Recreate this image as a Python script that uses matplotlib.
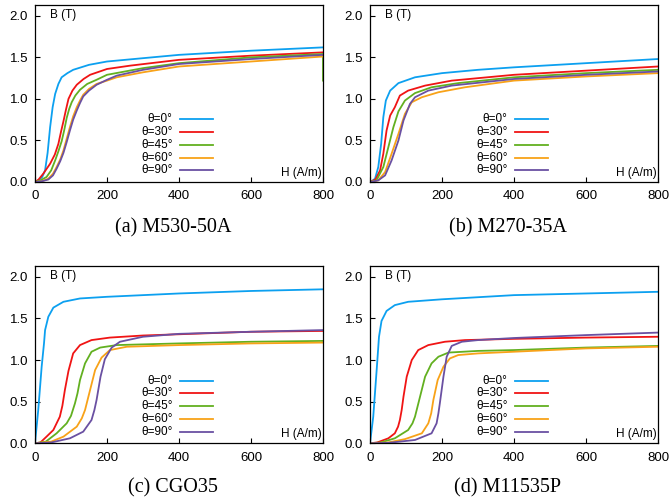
import matplotlib
matplotlib.use("Agg")
import matplotlib.pyplot as plt

# (H [A/m], B [T]), one list per angle
angles = ["θ=0°", "θ=30°", "θ=45°", "θ=60°", "θ=90°"]
colors = ["#0ca0f0", "#f01414", "#62b020", "#f8a218", "#6a50a2"]

m530_0 = [(0, 0), (10, 0.02), (20, 0.06), (28, 0.14), (35, 0.35), (42, 0.66), (49, 0.9), (56, 1.06),
          (65, 1.18), (74, 1.26), (90, 1.31), (106, 1.35), (150, 1.41), (200, 1.45), (300, 1.49),
          (400, 1.53), (600, 1.58), (800, 1.62)]
m530_30 = [(0, 0), (10, 0.03), (23, 0.1), (42, 0.22), (55, 0.33), (65, 0.46), (72, 0.6), (79, 0.73),
           (86, 0.87), (93, 1.0), (104, 1.1), (116, 1.17), (135, 1.24), (153, 1.29), (200, 1.36),
           (264, 1.4), (400, 1.47), (600, 1.52), (800, 1.56)]
m530_45 = [(0, 0), (15, 0.02), (32, 0.06), (45, 0.14), (56, 0.26), (65, 0.37), (74, 0.49), (81, 0.62),
           (88, 0.77), (95, 0.88), (102, 0.96), (112, 1.04), (125, 1.11), (145, 1.18), (171, 1.23),
           (200, 1.29), (300, 1.37), (400, 1.43), (600, 1.5), (800, 1.54), (800, 1.22)]
m530_60 = [(0, 0), (20, 0.01), (37, 0.04), (50, 0.1), (60, 0.18), (70, 0.27), (79, 0.38), (88, 0.52),
           (97, 0.66), (106, 0.79), (116, 0.9), (125, 0.98), (134, 1.05), (150, 1.12), (171, 1.18),
           (200, 1.22), (227, 1.26), (300, 1.32), (400, 1.39), (600, 1.45), (800, 1.51)]
m530_90 = [(0, 0), (20, 0.01), (37, 0.03), (50, 0.08), (60, 0.16), (70, 0.25), (79, 0.35), (88, 0.48),
           (97, 0.62), (106, 0.75), (116, 0.86), (125, 0.95), (134, 1.03), (150, 1.1), (171, 1.17),
           (200, 1.23), (227, 1.28), (300, 1.35), (400, 1.42), (600, 1.48), (800, 1.53)]

m270_0 = [(0, 0), (8, 0.02), (14, 0.04), (23, 0.18), (31, 0.46), (37, 0.78), (44, 0.98), (56, 1.1),
          (79, 1.19), (125, 1.26), (200, 1.31), (300, 1.35), (400, 1.38), (600, 1.43), (800, 1.48)]
m270_30 = [(0, 0), (15, 0.03), (28, 0.14), (37, 0.34), (46, 0.62), (56, 0.8), (69, 0.9), (83, 1.04),
           (106, 1.1), (153, 1.16), (227, 1.22), (400, 1.29), (600, 1.34), (800, 1.39)]
m270_45 = [(0, 0), (18, 0.02), (37, 0.18), (51, 0.42), (65, 0.66), (79, 0.85), (97, 0.98), (125, 1.07),
           (171, 1.14), (245, 1.19), (400, 1.26), (600, 1.31), (800, 1.35)]
m270_60 = [(0, 0), (23, 0.02), (42, 0.12), (60, 0.34), (79, 0.58), (97, 0.82), (116, 0.96), (144, 1.02),
           (190, 1.08), (264, 1.14), (400, 1.22), (600, 1.27), (800, 1.31)]
m270_90 = [(0, 0), (23, 0.02), (42, 0.08), (60, 0.26), (79, 0.5), (93, 0.74), (111, 0.94), (125, 1.02),
           (162, 1.1), (227, 1.16), (400, 1.24), (600, 1.29), (800, 1.33)]

cgo_0 = [(0, 0), (9, 0.4), (18.5, 0.92), (25, 1.2), (28, 1.36), (37, 1.52), (51, 1.63), (79, 1.7),
         (125, 1.74), (200, 1.76), (400, 1.8), (600, 1.83), (800, 1.85)]
cgo_30 = [(0, 0), (15, 0.01), (32, 0.08), (51, 0.16), (69, 0.32), (76, 0.45), (83, 0.64), (93, 0.87),
          (106, 1.08), (125, 1.18), (157, 1.24), (208, 1.27), (300, 1.295), (400, 1.31), (600, 1.34),
          (800, 1.35)]
cgo_45 = [(0, 0), (30, 0.02), (60, 0.12), (88, 0.24), (100, 0.33), (111, 0.48), (118, 0.6), (125, 0.76),
          (139, 0.96), (157, 1.1), (181, 1.15), (227, 1.18), (400, 1.2), (600, 1.22), (800, 1.23)]
cgo_60 = [(0, 0), (45, 0.02), (79, 0.08), (116, 0.2), (130, 0.3), (139, 0.4), (146, 0.52), (153, 0.64),
          (167, 0.88), (185, 1.03), (208, 1.12), (255, 1.16), (400, 1.18), (600, 1.2), (800, 1.21)]
cgo_90 = [(0, 0), (45, 0.01), (97, 0.06), (134, 0.14), (157, 0.28), (165, 0.4), (171, 0.52), (182, 0.8),
          (194, 1.01), (213, 1.15), (236, 1.22), (300, 1.28), (400, 1.315), (600, 1.34), (800, 1.36)]

m115_0 = [(0, 0), (9, 0.32), (18.5, 0.88), (25, 1.28), (32, 1.47), (46, 1.59), (69, 1.66), (106, 1.7),
          (200, 1.73), (400, 1.78), (600, 1.8), (800, 1.82)]
m115_30 = [(0, 0), (20, 0.01), (51, 0.06), (69, 0.12), (78, 0.2), (83, 0.28), (88, 0.4), (93, 0.56),
           (102, 0.8), (116, 1.0), (134, 1.12), (162, 1.18), (208, 1.22), (264, 1.24), (400, 1.255),
           (600, 1.27), (800, 1.28)]
m115_45 = [(0, 0), (30, 0.01), (69, 0.06), (106, 0.16), (118, 0.24), (125, 0.32), (139, 0.56), (153, 0.8),
           (171, 0.96), (190, 1.04), (218, 1.09), (300, 1.11), (400, 1.12), (600, 1.15), (800, 1.17)]
m115_60 = [(0, 0), (50, 0.01), (97, 0.05), (144, 0.12), (162, 0.24), (170, 0.36), (176, 0.52), (188, 0.76),
           (204, 0.92), (222, 1.02), (245, 1.06), (300, 1.08), (400, 1.1), (600, 1.14), (800, 1.16)]
m115_90 = [(0, 0), (50, 0.005), (125, 0.04), (171, 0.12), (185, 0.24), (190, 0.36), (194, 0.48),
           (204, 0.8), (213, 1.04), (227, 1.17), (255, 1.22), (300, 1.24), (400, 1.265), (600, 1.3),
           (800, 1.33)]

captions = ["(a) M530-50A", "(b) M270-35A", "(c) CGO35", "(d) M11535P"]
panels = [
    [m530_0, m530_30, m530_45, m530_60, m530_90],
    [m270_0, m270_30, m270_45, m270_60, m270_90],
    [cgo_0, cgo_30, cgo_45, cgo_60, cgo_90],
    [m115_0, m115_30, m115_45, m115_60, m115_90],
]

W, H = 671, 504
fig = plt.figure(figsize=(W / 100, H / 100), dpi=100)

# axes boxes in pixels: left, top, right, bottom
boxes = [(35, 5, 323, 182), (370, 5, 658, 182), (35, 266, 323, 443.3), (370, 266, 658, 443.3)]
cap_pos = [(173, 228), (508, 228), (173, 488), (508, 488)]

sans = "Liberation Sans"
legend_y = [0.354, 0.281, 0.208, 0.138, 0.066]

for i, (curves, box) in enumerate(zip(panels, boxes)):
    l, t, r, b = box
    ax = fig.add_axes([l / W, 1 - b / H, (r - l) / W, (b - t) / H])
    for pts, c in zip(curves, colors):
        ax.plot([p[0] for p in pts], [p[1] for p in pts], color=c, lw=1.3, solid_joinstyle="round")
    ax.set_xlim(0, 800)
    ax.set_ylim(0, 2.13)
    ax.set_xticks([0, 200, 400, 600, 800])
    ax.set_yticks([0, 0.5, 1.0, 1.5, 2.0])
    ax.set_yticklabels(["0.0", "0.5", "1.0", "1.5", "2.0"])
    ax.tick_params(direction="in", length=3.5, width=0.8, labelsize=9.5)
    ax.tick_params(axis="y", pad=5)
    ax.tick_params(axis="x", pad=6)
    for lab in ax.get_xticklabels() + ax.get_yticklabels():
        lab.set_fontfamily(sans)
    for s in ax.spines.values():
        s.set_linewidth(0.9)

    ax.text(0.052, 0.945, "B (T)", transform=ax.transAxes, fontsize=8.5, family=sans,
            ha="left", va="center")
    ax.text(0.997, 0.05, "H (A/m)", transform=ax.transAxes, fontsize=8.5, family=sans,
            ha="right", va="center")

    # key, gnuplot style: label then sample line
    for name, c, yy in zip(angles, colors, legend_y):
        ax.text(0.478, yy, name, transform=ax.transAxes, fontsize=8.5, family=sans,
                ha="right", va="center")
        ax.plot([0.503, 0.618], [yy, yy], transform=ax.transAxes, color=c, lw=1.3)

    cx, cy = cap_pos[i]
    fig.text(cx / W, 1 - cy / H, captions[i], fontsize=14.5, family="Liberation Serif",
             ha="center", va="center")

fig.savefig("out.png", dpi=100)
